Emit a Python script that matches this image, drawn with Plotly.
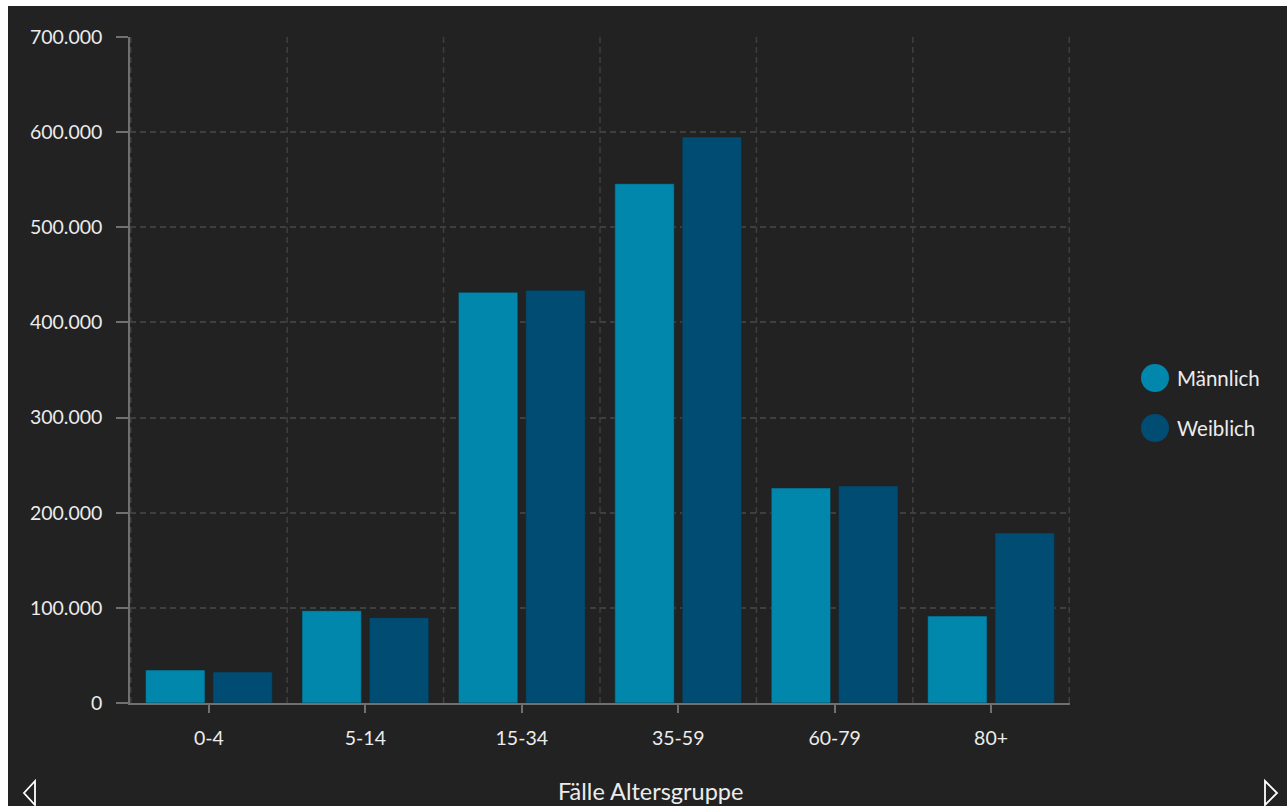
import plotly.graph_objects as go

# Cases per age group, split by sex
age_groups = ["0-4", "5-14", "15-34", "35-59", "60-79", "80+"]
male_cases = [34700, 97000, 431700, 545800, 226000, 91400]
female_cases = [32600, 89700, 433800, 594900, 228100, 178700]
series_names = ["Männlich", "Weiblich"]
series_colors = ["#0087ab", "#004c72"]
y_ticks = [0, 100000, 200000, 300000, 400000, 500000, 600000, 700000]
x_title = "Fälle Altersgruppe"

W, H = 1287, 806
M_L, M_R, M_T, M_B = 130, 217, 37, 103
PW, PH = W - M_L - M_R, H - M_T - M_B

BG = "#222222"
TEXT = "#ececec"
GRID = "#3f3f3f"
AXIS = "#707070"
FONT = "Lato"
DASH = "6px,4px"


def px_x(px):
    return (px - M_L) / PW


def px_y(py):
    return (H - M_B - py) / PH


fig = go.Figure()
for name, vals, color in zip(series_names, [male_cases, female_cases], series_colors):
    fig.add_trace(go.Bar(
        x=age_groups, y=vals, name=name,
        marker=dict(color=color, line=dict(color="rgba(20,40,50,0.55)", width=1)),
        showlegend=False,
    ))

shapes = []
# dashed vertical grid lines on the category boundaries
for i in range(len(age_groups) + 1):
    shapes.append(dict(type="line", xref="x", yref="paper", x0=i - 0.5, x1=i - 0.5,
                       y0=0, y1=1, line=dict(color=GRID, width=1.5, dash=DASH),
                       layer="below"))

# legend: large round swatches
legend_y = [378, 428]
annotations = []
for name, color, ly in zip(series_names, series_colors, legend_y):
    shapes.append(dict(type="circle", xref="paper", yref="paper",
                       xsizemode="pixel", ysizemode="pixel",
                       xanchor=px_x(1155), yanchor=px_y(ly),
                       x0=-14, x1=14, y0=-14, y1=14,
                       fillcolor=color, line=dict(width=0)))
    annotations.append(dict(text=name, xref="paper", yref="paper",
                            x=px_x(1175), y=px_y(ly), xanchor="left", yanchor="middle",
                            showarrow=False, font=dict(family=FONT, size=20.5, color=TEXT)))

# paging arrows at the bottom corners
def tri_path(pts):
    return "M " + " L ".join(f"{px_x(a)},{px_y(b)}" for a, b in pts)

shapes.append(dict(type="path", xref="paper", yref="paper",
                   path=tri_path([(35, 781), (24, 793), (35, 805)]) + " Z",
                   line=dict(color="white", width=1.8)))
shapes.append(dict(type="path", xref="paper", yref="paper",
                   path=tri_path([(1265, 781), (1277, 793), (1265, 805)]) + " Z",
                   line=dict(color="white", width=1.8)))

# white page strips at top and left
shapes.append(dict(type="rect", xref="paper", yref="paper",
                   x0=-1, x1=3, y0=px_y(6), y1=3, fillcolor="white",
                   line=dict(width=0), layer="above"))
shapes.append(dict(type="rect", xref="paper", yref="paper",
                   x0=-1, x1=px_x(8), y0=-1, y1=3, fillcolor="white",
                   line=dict(width=0), layer="above"))

annotations.append(dict(text=x_title, xref="paper", yref="paper",
                        x=px_x(650), y=px_y(791), xanchor="center", yanchor="middle",
                        showarrow=False, font=dict(family=FONT, size=23.5, color=TEXT)))

fig.update_layout(
    width=W, height=H,
    margin=dict(l=M_L, r=M_R, t=M_T, b=M_B, pad=0),
    paper_bgcolor=BG, plot_bgcolor=BG,
    barmode="group", bargap=0.1385, bargroupgap=0.1185,
    separators=",.",
    font=dict(family=FONT, size=19.5, color=TEXT),
    shapes=shapes, annotations=annotations,
    showlegend=False,
)
fig.update_xaxes(
    type="category", showgrid=False, showline=True, linecolor=AXIS, linewidth=1.5,
    ticks="outside", ticklen=8, tickcolor=AXIS, tickwidth=1.5,
    tickfont=dict(family=FONT, size=19.5, color=TEXT), ticklabelstandoff=9,
    zeroline=False, fixedrange=True,
)
fig.update_yaxes(
    range=[0, 700000], tickvals=y_ticks, tickformat=",d",
    showgrid=True, gridcolor=GRID, gridwidth=1.5, griddash=DASH,
    showline=True, linecolor=AXIS, linewidth=1.5,
    ticks="outside", ticklen=12, tickcolor=AXIS, tickwidth=1.5,
    tickfont=dict(family=FONT, size=19.5, color=TEXT), ticklabelstandoff=10,
    zeroline=False, fixedrange=True,
)

fig.write_html("out.html", config={"displayModeBar": False})
